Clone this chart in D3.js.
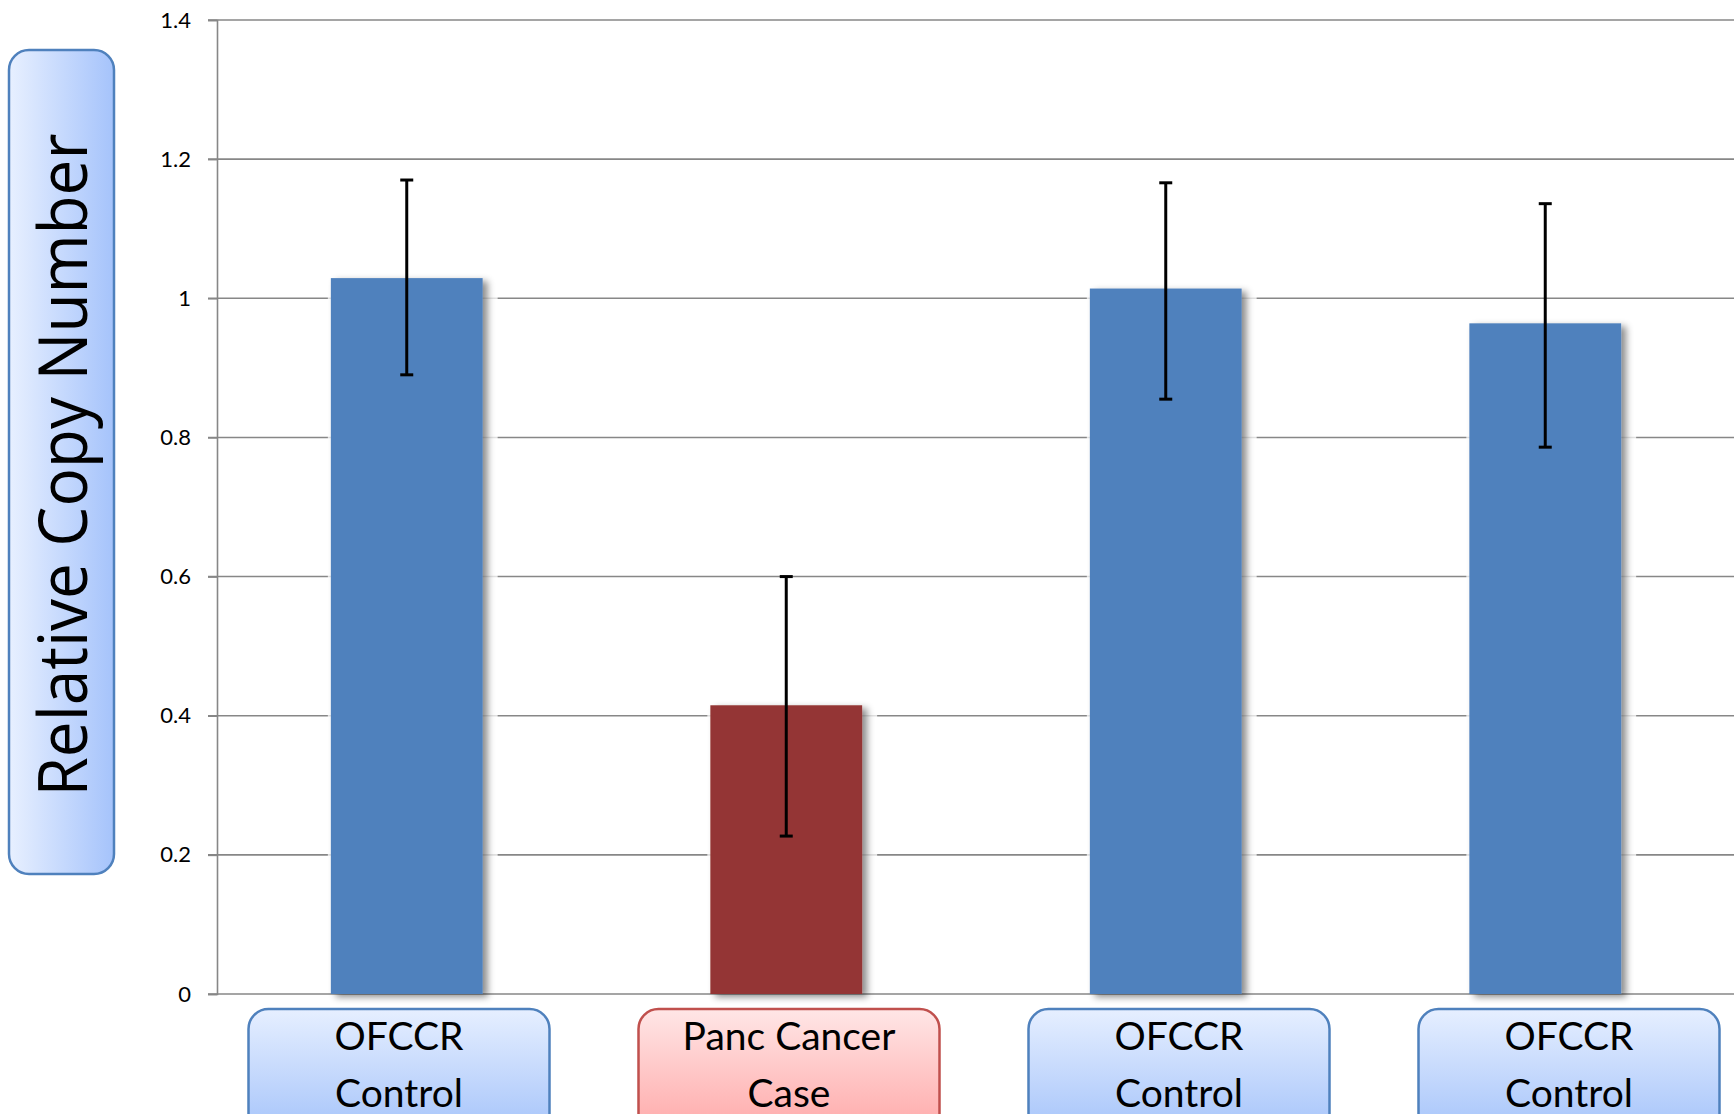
<!DOCTYPE html>
<html>
<head>
<meta charset="utf-8">
<script src="https://cdn.jsdelivr.net/npm/d3@7"></script>
<style>
  body { margin: 0; background: #fff; }
  svg { display: block; }
</style>
</head>
<body>
<div id="wrapper"></div>
<script>
const categories = ["OFCCR Control", "Panc Cancer Case", "OFCCR Control", "OFCCR Control"];
const labelLines = [["OFCCR", "Control"], ["Panc Cancer", "Case"], ["OFCCR", "Control"], ["OFCCR", "Control"]];
const groups = ["control", "case", "control", "control"];
const values = [1.029, 0.415, 1.014, 0.964];
const errLow = [0.890, 0.227, 0.855, 0.786];
const errHigh = [1.170, 0.600, 1.166, 1.136];
const tickValues = [0, 0.2, 0.4, 0.6, 0.8, 1, 1.2, 1.4];
const tickLabels = ["0", "0.2", "0.4", "0.6", "0.8", "1", "1.2", "1.4"];
const yTitle = "Relative Copy Number";

const dimension = {
  width: 1734,
  height: 1114,
  margin: { top: 20, right: -1, bottom: 120, left: 217 },
};
dimension.boundedWidth = dimension.width - dimension.margin.left - dimension.margin.right;
dimension.boundedHeight = dimension.height - dimension.margin.top - dimension.margin.bottom;

const data = values.map((v, i) => ({
  i, cat: categories[i], group: groups[i], value: v, lo: errLow[i], hi: errHigh[i], lines: labelLines[i],
}));

const svg = d3.select("#wrapper").append("svg")
  .attr("width", dimension.width)
  .attr("height", dimension.height);

const defs = svg.append("defs");
const shadow = defs.append("filter").attr("id", "shadow")
  .attr("x", "-20%").attr("y", "-10%").attr("width", "150%").attr("height", "130%");
shadow.append("feDropShadow")
  .attr("dx", 5).attr("dy", 3).attr("stdDeviation", 3.5)
  .attr("flood-color", "#000").attr("flood-opacity", 0.45);

function grad(id, x2, y2, c0, c1) {
  const g = defs.append("linearGradient").attr("id", id)
    .attr("x1", 0).attr("y1", 0).attr("x2", x2).attr("y2", y2);
  g.append("stop").attr("offset", "0%").attr("stop-color", c0);
  g.append("stop").attr("offset", "100%").attr("stop-color", c1);
}
grad("blueV", 0, 1, "#e6efff", "#a3c2fa");
grad("redV", 0, 1, "#ffe6e6", "#ffa6a6");
grad("blueH", 1, 0, "#e8f0ff", "#a5c3fb");

const x = d3.scaleBand()
  .domain(d3.range(categories.length))
  .range([dimension.margin.left, dimension.width + 1])
  .paddingInner(0.6)
  .paddingOuter(0.3);

const y = d3.scaleLinear()
  .domain([0, 1.4])
  .range([dimension.margin.top + dimension.boundedHeight, dimension.margin.top]);

// gridlines
svg.append("g")
  .selectAll("line")
  .data(tickValues)
  .enter()
  .append("line")
  .attr("x1", dimension.margin.left - 9)
  .attr("x2", dimension.width)
  .attr("y1", d => y(d))
  .attr("y2", d => y(d))
  .attr("stroke", "#878787")
  .attr("stroke-width", 1.6);

// y axis
const yAxis = svg.append("g")
  .attr("transform", `translate(${dimension.margin.left},0)`)
  .call(d3.axisLeft(y).tickValues(tickValues).tickSize(9).tickPadding(17)
    .tickFormat((d, i) => tickLabels[i]));
yAxis.select(".domain").attr("stroke", "#878787").attr("stroke-width", 1.6);
yAxis.selectAll(".tick line").attr("stroke", "#878787").attr("stroke-width", 1.6);
yAxis.selectAll(".tick text")
  .attr("fill", "#000")
  .style("font-family", "Lato, 'Open Sans', sans-serif")
  .style("font-size", "22px");

// bars
const bars = svg.append("g").selectAll("g")
  .data(data)
  .enter()
  .append("g");

bars.append("rect")
  .attr("x", d => x(d.i) - 3)
  .attr("y", d => y(d.value) - 3)
  .attr("width", x.bandwidth() + 18)
  .attr("height", d => y(0) - y(d.value) + 2)
  .attr("fill", "#fff")
  .attr("opacity", 0.75);

bars.append("rect")
  .attr("x", d => x(d.i))
  .attr("y", d => y(d.value))
  .attr("width", x.bandwidth())
  .attr("height", d => y(0) - y(d.value))
  .attr("fill", d => d.group === "case" ? "#943634" : "#4f81bd")
  .attr("filter", "url(#shadow)");

// error bars
const err = svg.append("g").selectAll("g")
  .data(data)
  .enter()
  .append("g")
  .attr("stroke", "#000")
  .attr("stroke-width", 3);
err.append("line")
  .attr("x1", d => x(d.i) + x.bandwidth() / 2)
  .attr("x2", d => x(d.i) + x.bandwidth() / 2)
  .attr("y1", d => y(d.hi))
  .attr("y2", d => y(d.lo));
[d => d.hi, d => d.lo].forEach(acc => {
  err.append("line")
    .attr("x1", d => x(d.i) + x.bandwidth() / 2 - 6.5)
    .attr("x2", d => x(d.i) + x.bandwidth() / 2 + 6.5)
    .attr("y1", d => y(acc(d)))
    .attr("y2", d => y(acc(d)));
});

// category label boxes
const labelX = d3.scaleLinear().domain([0, categories.length - 1]).range([399, 1569]);
const boxW = 301, boxTop = y(0) + 15;
const labels = svg.append("g").selectAll("g")
  .data(data)
  .enter()
  .append("g")
  .attr("transform", d => `translate(${labelX(d.i)},${boxTop})`);

labels.append("rect")
  .attr("x", -boxW / 2)
  .attr("y", 0)
  .attr("width", boxW)
  .attr("height", 130)
  .attr("rx", 20)
  .attr("fill", d => d.group === "case" ? "url(#redV)" : "url(#blueV)")
  .attr("stroke", d => d.group === "case" ? "#c0504d" : "#4f81bd")
  .attr("stroke-width", 2.5);

labels.selectAll("text")
  .data(d => d.lines)
  .enter()
  .append("text")
  .attr("x", 0)
  .attr("y", (d, i) => 41 + i * 57)
  .attr("text-anchor", "middle")
  .style("font-family", "Lato, 'Open Sans', sans-serif")
  .style("font-size", "39px")
  .text(d => d);

// y title box
svg.append("rect")
  .attr("x", 9)
  .attr("y", 50)
  .attr("width", 105)
  .attr("height", 824)
  .attr("rx", 20)
  .attr("fill", "url(#blueH)")
  .attr("stroke", "#4f81bd")
  .attr("stroke-width", 2.5);

svg.append("text")
  .attr("transform", "translate(87,465) rotate(-90)")
  .attr("text-anchor", "middle")
  .attr("textLength", 663)
  .attr("lengthAdjust", "spacingAndGlyphs")
  .style("font-family", "'Open Sans', sans-serif")
  .style("font-size", "68px")
  .text(yTitle);
</script>
</body>
</html>
